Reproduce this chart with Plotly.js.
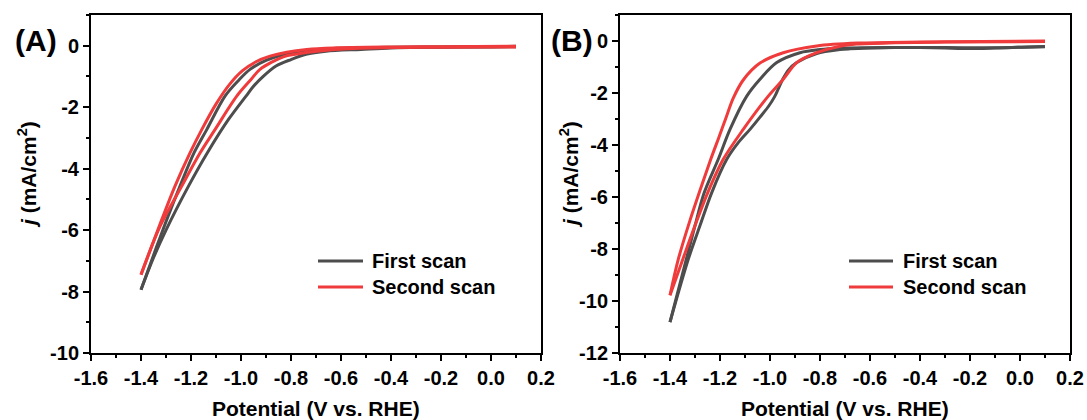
<!DOCTYPE html>
<html>
<head>
<meta charset="utf-8">
<script src="https://cdn.plot.ly/plotly-3.0.1.min.js"></script>
<style>html,body{margin:0;padding:0;background:#fff;}#chart{width:1087px;height:420px;}</style>
</head>
<body>
<div id="chart"></div>
<script>
// ---------- DATA ----------
// Panel A, first scan (forward: 0.1 -> -1.4 V, return: -1.4 -> 0.1 V)
const aFirstFwdV = [0.10, 0.00, -0.20, -0.40, -0.52, -0.66, -0.74, -0.80, -0.86, -0.91, -0.95, -0.98, -1.05, -1.135, -1.21, -1.30, -1.35, -1.40];
const aFirstFwdJ = [-0.03, -0.04, -0.05, -0.07, -0.12, -0.18, -0.28, -0.45, -0.66, -0.99, -1.32, -1.64, -2.40, -3.49, -4.57, -6.00, -6.90, -7.94];
const aFirstRetV = [-1.40, -1.337, -1.297, -1.244, -1.188, -1.137, -1.064, -1.01, -0.964, -0.90, -0.84, -0.76, -0.65, -0.40, -0.20, 0.10];
const aFirstRetJ = [-7.94, -6.53, -5.66, -4.57, -3.49, -2.73, -1.64, -1.13, -0.77, -0.48, -0.31, -0.18, -0.10, -0.05, -0.04, -0.02];
// Panel A, second scan
const aSecondFwdV = [0.10, -0.20, -0.40, -0.577, -0.697, -0.777, -0.831, -0.924, -0.96, -1.017, -1.104, -1.164, -1.237, -1.324, -1.40];
const aSecondFwdJ = [-0.04, -0.05, -0.06, -0.10, -0.18, -0.27, -0.36, -0.77, -1.10, -1.64, -2.73, -3.49, -4.57, -5.88, -7.45];
const aSecondRetV = [-1.40, -1.317, -1.264, -1.204, -1.157, -1.10, -1.045, -0.995, -0.94, -0.884, -0.817, -0.737, -0.631, -0.40, -0.20, 0.10];
const aSecondRetJ = [-7.45, -5.66, -4.57, -3.49, -2.73, -1.90, -1.25, -0.82, -0.52, -0.34, -0.21, -0.12, -0.07, -0.04, -0.03, -0.02];
// Panel B, first scan
const bFirstFwdV = [0.10, 0.00, -0.10, -0.20, -0.30, -0.40, -0.50, -0.60, -0.68, -0.72, -0.813, -0.893, -0.925, -0.948, -0.965, -0.982, -1.005, -1.04, -1.08, -1.127, -1.173, -1.233, -1.28, -1.327, -1.40];
const bFirstFwdJ = [-0.22, -0.24, -0.27, -0.29, -0.27, -0.25, -0.25, -0.27, -0.30, -0.33, -0.48, -0.83, -1.10, -1.45, -1.80, -2.15, -2.50, -2.93, -3.40, -3.91, -4.55, -5.83, -7.10, -8.40, -10.81];
const bFirstRetV = [-1.40, -1.335, -1.30, -1.263, -1.207, -1.16, -1.093, -1.04, -0.973, -0.88, -0.80, -0.72, -0.60, -0.45, -0.30, -0.10, 0.10];
const bFirstRetJ = [-10.81, -8.40, -7.10, -5.83, -4.55, -3.40, -2.12, -1.47, -0.83, -0.45, -0.33, -0.28, -0.26, -0.25, -0.25, -0.26, -0.21];
// Panel B, second scan
const bSecondFwdV = [0.10, -0.30, -0.50, -0.653, -0.72, -0.813, -0.893, -0.947, -1.007, -1.107, -1.187, -1.249, -1.30, -1.349, -1.40];
const bSecondFwdJ = [-0.02, -0.04, -0.07, -0.12, -0.20, -0.45, -0.83, -1.47, -2.12, -3.40, -4.55, -5.83, -7.10, -8.40, -9.78];
const bSecondRetV = [-1.40, -1.367, -1.32, -1.283, -1.237, -1.205, -1.177, -1.147, -1.107, -1.04, -0.947, -0.813, -0.65, -0.40, -0.15, 0.10];
const bSecondRetJ = [-9.78, -8.40, -6.90, -5.83, -4.55, -3.72, -2.98, -2.20, -1.50, -0.85, -0.45, -0.19, -0.08, -0.04, -0.02, 0.00];

// Tick labels
const xTickVals = [-1.6, -1.4, -1.2, -1.0, -0.8, -0.6, -0.4, -0.2, 0.0, 0.2];
const xTickText = ['-1.6', '-1.4', '-1.2', '-1.0', '-0.8', '-0.6', '-0.4', '-0.2', '0.0', '0.2'];
const yTickValsA = [-10, -8, -6, -4, -2, 0];
const yTickTextA = ['-10', '-8', '-6', '-4', '-2', '0'];
const yTickValsB = [-12, -10, -8, -6, -4, -2, 0];
const yTickTextB = ['-12', '-10', '-8', '-6', '-4', '-2', '0'];

const seriesNames = ['First scan', 'Second scan'];
const panelLabels = ['(A)', '(B)'];
const xTitle = 'Potential (V vs. RHE)';
const yTitle = '<i>j</i> (mA/cm<sup>2</sup>)';

// ---------- STYLE ----------
const W = 1087, H = 420;
const GRAY = '#4d4d4d', RED = '#ef3b3b';
const FONT = 'Arial, "Liberation Sans", Helvetica, sans-serif';
const px = v => v / W;
const py = v => 1 - v / H;

function tr(x, y, color, xa, ya) {
  return {x: x, y: y, type: 'scatter', mode: 'lines', xaxis: xa, yaxis: ya,
          line: {color: color, width: 3, shape: 'spline', smoothing: 0.9},
          showlegend: false, hoverinfo: 'skip'};
}

const data = [
  tr(aFirstFwdV, aFirstFwdJ, GRAY, 'x', 'y'),
  tr(aFirstRetV, aFirstRetJ, GRAY, 'x', 'y'),
  tr(aSecondFwdV, aSecondFwdJ, RED, 'x', 'y'),
  tr(aSecondRetV, aSecondRetJ, RED, 'x', 'y'),
  tr(bFirstFwdV, bFirstFwdJ, GRAY, 'x2', 'y2'),
  tr(bFirstRetV, bFirstRetJ, GRAY, 'x2', 'y2'),
  tr(bSecondFwdV, bSecondFwdJ, RED, 'x2', 'y2'),
  tr(bSecondRetV, bSecondRetJ, RED, 'x2', 'y2')
];

const tickFont = {family: FONT, size: 20, color: '#000', weight: 'bold'};
function xAxis(domain, anchor) {
  return {domain: domain, anchor: anchor, range: [-1.6, 0.2], tickmode: 'array',
    tickvals: xTickVals, ticktext: xTickText, ticks: 'outside', ticklen: 6, tickwidth: 2,
    tickcolor: '#000', linecolor: '#000', linewidth: 2, mirror: true, showgrid: false,
    zeroline: false, tickfont: tickFont, fixedrange: true,
    minor: {tickmode: 'linear', tick0: -1.6, dtick: 0.1, ticks: 'outside', ticklen: 3, tickwidth: 2, tickcolor: '#000', showgrid: false}};
}
function yAxis(range, vals, text, anchor) {
  return {domain: [py(353), py(15)], anchor: anchor, range: range, tickmode: 'array',
    tickvals: vals, ticktext: text, ticks: 'outside', ticklen: 6, tickwidth: 2,
    tickcolor: '#000', linecolor: '#000', linewidth: 2, mirror: true, showgrid: false,
    zeroline: false, tickfont: tickFont, fixedrange: true,
    minor: {tickmode: 'linear', tick0: 0, dtick: 1, ticks: 'outside', ticklen: 3, tickwidth: 2, tickcolor: '#000', showgrid: false}};
}

const bold = (size) => ({family: FONT, size: size, color: '#000', weight: 'bold'});
const annotations = [
  {text: panelLabels[0], x: px(13), y: py(41), xanchor: 'left', yanchor: 'middle', font: bold(30)},
  {text: panelLabels[1], x: px(549), y: py(40), xanchor: 'left', yanchor: 'middle', font: bold(30)},
  {text: xTitle, x: px(316), y: py(408), xanchor: 'center', yanchor: 'middle', font: bold(21)},
  {text: xTitle, x: px(845), y: py(408), xanchor: 'center', yanchor: 'middle', font: bold(21)},
  {text: yTitle, x: px(27), y: py(175), xanchor: 'center', yanchor: 'middle', textangle: -90, font: bold(21)},
  {text: yTitle, x: px(569), y: py(175), xanchor: 'center', yanchor: 'middle', textangle: -90, font: bold(21)},
  {text: seriesNames[0], x: px(370), y: py(261), xanchor: 'left', yanchor: 'middle', font: bold(20)},
  {text: seriesNames[1], x: px(370), y: py(287), xanchor: 'left', yanchor: 'middle', font: bold(20)},
  {text: seriesNames[0], x: px(901), y: py(261), xanchor: 'left', yanchor: 'middle', font: bold(20)},
  {text: seriesNames[1], x: px(901), y: py(287), xanchor: 'left', yanchor: 'middle', font: bold(20)}
].map(a => Object.assign({xref: 'paper', yref: 'paper', showarrow: false}, a));

const legLine = (x0, x1, y, c) => ({type: 'line', xref: 'paper', yref: 'paper',
  x0: px(x0), x1: px(x1), y0: py(y), y1: py(y), line: {color: c, width: 3}});
const shapes = [
  legLine(318, 363, 261, GRAY), legLine(318, 363, 287, RED),
  legLine(849, 893, 261, GRAY), legLine(849, 893, 287, RED)
];

const layout = {
  width: W, height: H, margin: {l: 0, r: 0, t: 0, b: 0},
  paper_bgcolor: '#fff', plot_bgcolor: '#fff', showlegend: false,
  xaxis: xAxis([px(91), px(541)], 'y'),
  yaxis: yAxis([-10, 1], yTickValsA, yTickTextA, 'x'),
  xaxis2: xAxis([px(620), px(1070)], 'y2'),
  yaxis2: yAxis([-12, 1], yTickValsB, yTickTextB, 'x2'),
  annotations: annotations, shapes: shapes
};

Plotly.newPlot('chart', data, layout, {staticPlot: true, displayModeBar: false});
</script>
</body>
</html>
